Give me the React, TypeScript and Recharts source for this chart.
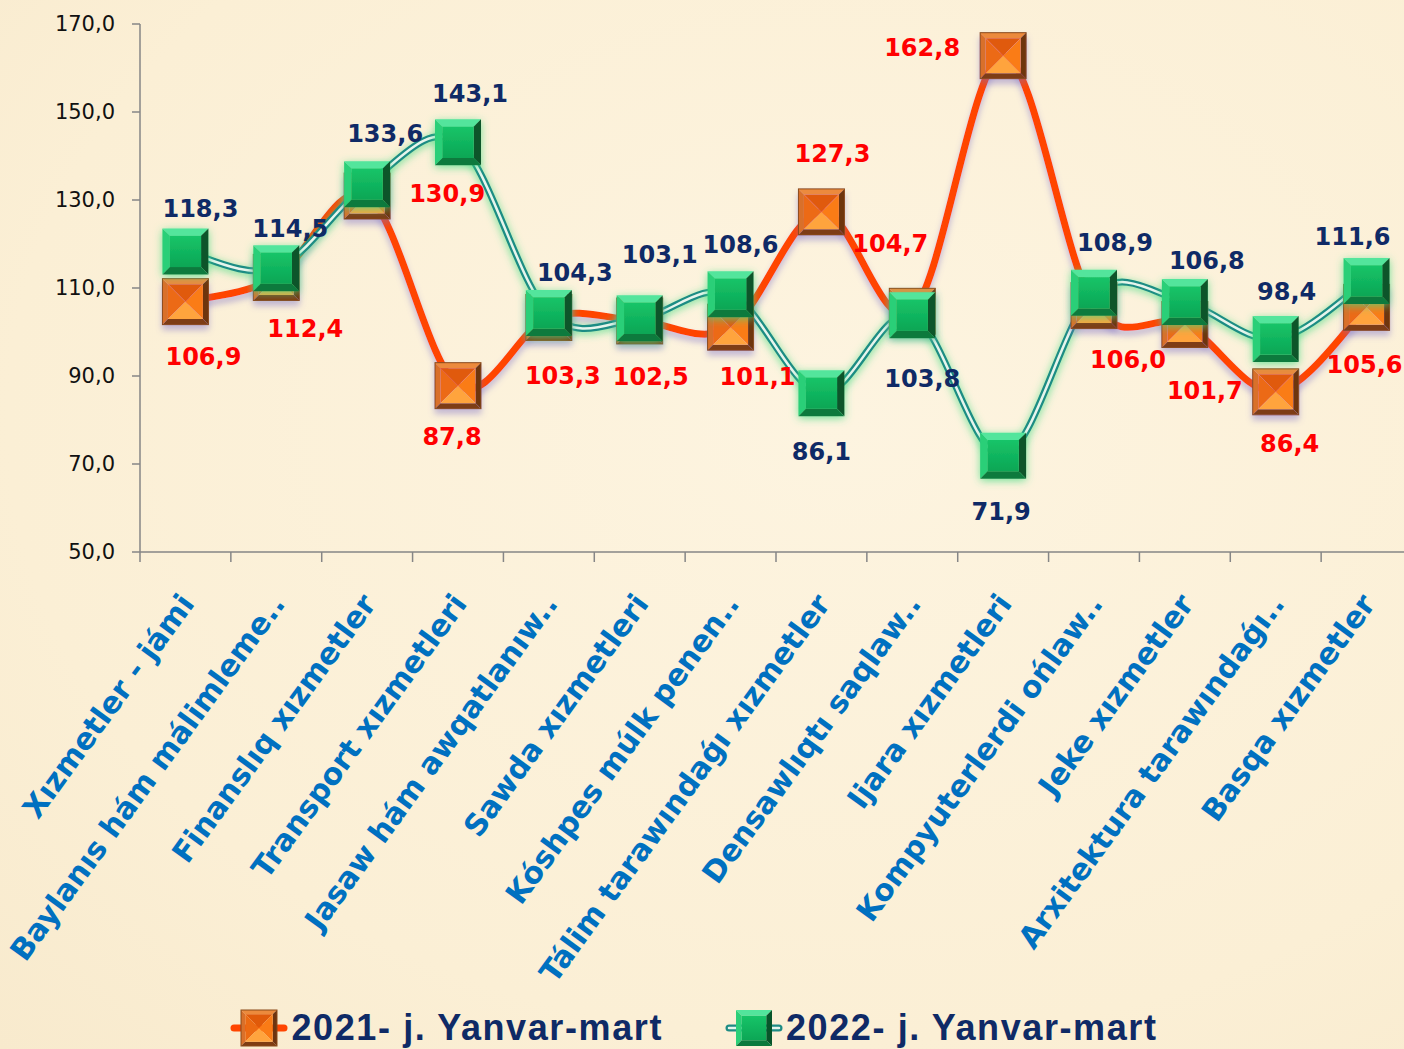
import React from "react";
import { LineChart, Line, XAxis, YAxis, Legend, LabelList } from "recharts";

const categories = [
  "Xızmetler - jámi",
  "Baylanıs hám málimleme..",
  "Finanslıq xızmetler",
  "Transport xızmetleri",
  "Jasaw hám awqatlanıw..",
  "Sawda xızmetleri",
  "Kóshpes múlk penen..",
  "Tálim tarawındaǵı xızmetler",
  "Densawlıqtı saqlaw..",
  "Ijara xızmetleri",
  "Kompyuterlerdi ońlaw..",
  "Jeke xızmetler",
  "Arxitektura tarawındaǵı..",
  "Basqa xızmetler",
];

const values2021 = [106.9, 112.4, 130.9, 87.8, 103.3, 102.5, 101.1, 127.3, 104.7, 162.8, 106.0, 101.7, 86.4, 105.6];
const values2022 = [118.3, 114.5, 133.6, 143.1, 104.3, 103.1, 108.6, 86.1, 103.8, 71.9, 108.9, 106.8, 98.4, 111.6];
const yTicks = [50, 70, 90, 110, 130, 150, 170];
const seriesNames = ["2021- j. Yanvar-mart", "2022- j. Yanvar-mart"];

// where each value label sits relative to its marker (dx, dy)
const labelOffsets2021 = [
  [18, 55], [29, 51], [80, -3], [-6, 51], [14, 58], [11, 55], [27, 49],
  [11, -59], [-22, -68], [-81, -8], [34, 54], [20, 66], [14, 52], [-2, 57],
];
const labelOffsets2022 = [
  [15, -43], [14, -40], [18, -51], [12, -49], [26, -41], [20, -64], [10, -50],
  [0, 58], [10, 63], [-2, 56], [21, -50], [22, -42], [11, -48], [-14, -45],
];

const CHART_W = 1420;
const CHART_H = 1049;
const PLOT_LEFT = 140;
const PLOT_RIGHT = 1412;
const BAND = (PLOT_RIGHT - PLOT_LEFT) / categories.length;

const data = categories.map((name, i) => ({
  name,
  y2021: values2021[i],
  y2022: values2022[i],
}));

const fmt = (v: number) => v.toFixed(1).replace(".", ",");

// Excel-like smoothed line (catmull-rom as cubic beziers)
const smoothCurve = (context: any) => {
  let pts: number[][] = [];
  return {
    areaStart() {},
    areaEnd() {},
    lineStart() {
      pts = [];
    },
    point(x: number, y: number) {
      pts.push([+x, +y]);
    },
    lineEnd() {
      const n = pts.length;
      if (!n) return;
      context.moveTo(pts[0][0], pts[0][1]);
      for (let i = 0; i < n - 1; i++) {
        const p0 = pts[Math.max(i - 1, 0)];
        const p1 = pts[i];
        const p2 = pts[i + 1];
        const p3 = pts[Math.min(i + 2, n - 1)];
        context.bezierCurveTo(
          p1[0] + (p2[0] - p0[0]) / 6,
          p1[1] + (p2[1] - p0[1]) / 6,
          p2[0] - (p3[0] - p1[0]) / 6,
          p2[1] - (p3[1] - p1[1]) / 6,
          p2[0],
          p2[1]
        );
      }
    },
  };
};

function OrangeBox({ cx, cy, size = 46 }: any) {
  const h = size / 2;
  const b = size * 0.12;
  const x0 = cx - h, y0 = cy - h, x1 = cx + h, y1 = cy + h;
  const a0 = x0 + b, b0 = y0 + b, a1 = x1 - b, b1 = y1 - b;
  return (
    <g>
      <polygon points={`${x0},${y0} ${x1},${y0} ${a1},${b0} ${a0},${b0}`} fill="#ec8a3c" />
      <polygon points={`${x0},${y0} ${a0},${b0} ${a0},${b1} ${x0},${y1}`} fill="#d9702a" />
      <polygon points={`${x1},${y0} ${x1},${y1} ${a1},${b1} ${a1},${b0}`} fill="#6e3410" />
      <polygon points={`${x0},${y1} ${a0},${b1} ${a1},${b1} ${x1},${y1}`} fill="#7e3d12" />
      <polygon points={`${a0},${b0} ${a1},${b0} ${cx},${cy}`} fill="#e05a0a" />
      <polygon points={`${a0},${b0} ${cx},${cy} ${a0},${b1}`} fill="#ec6a12" />
      <polygon points={`${a1},${b0} ${a1},${b1} ${cx},${cy}`} fill="#fa7b16" />
      <polygon points={`${a0},${b1} ${a1},${b1} ${cx},${cy}`} fill="#ffa43e" />
      <rect x={x0} y={y0} width={size} height={size} fill="none" stroke="#8a4a18" strokeWidth={1} />
    </g>
  );
}

function GreenBox({ cx, cy, size = 46 }: any) {
  const h = size / 2;
  const b = size * 0.16;
  const x0 = cx - h, y0 = cy - h, x1 = cx + h, y1 = cy + h;
  const a0 = x0 + b, b0 = y0 + b, a1 = x1 - b, b1 = y1 - b;
  return (
    <g>
      <polygon points={`${x0},${y0} ${x1},${y0} ${a1},${b0} ${a0},${b0}`} fill="#52e59c" />
      <polygon points={`${x0},${y0} ${a0},${b0} ${a0},${b1} ${x0},${y1}`} fill="#2bcf78" />
      <polygon points={`${x1},${y0} ${x1},${y1} ${a1},${b1} ${a1},${b0}`} fill="#07552a" />
      <polygon points={`${x0},${y1} ${a0},${b1} ${a1},${b1} ${x1},${y1}`} fill="#0b7a3c" />
      <rect x={a0} y={b0} width={a1 - a0} height={b1 - b0} fill="url(#greenFace)" />
    </g>
  );
}

function makeLabel(offsets: number[][], color: string) {
  return (props: any) => {
    const { x, y, value, index } = props;
    const [dx, dy] = offsets[index] || [0, 0];
    return (
      <text
        x={x + dx}
        y={y + dy}
        dy="0.36em"
        textAnchor="middle"
        fontFamily="DejaVu Sans, Verdana, sans-serif"
        fontWeight={700}
        fontSize={24}
        fill={color}
      >
        {fmt(value)}
      </text>
    );
  };
}

function CategoryTick(props: any) {
  const { x, y, payload } = props;
  const lx = x + 10;
  const ly = y + 52;
  return (
    <g>
      <line x1={x - BAND / 2} y1={y} x2={x - BAND / 2} y2={y + 10} stroke="#868686" strokeWidth={1.5} />
      <text
        x={lx}
        y={ly}
        textAnchor="end"
        transform={`rotate(-54 ${lx} ${ly})`}
        fontFamily="DejaVu Sans, Verdana, sans-serif"
        fontWeight={700}
        fontSize={30}
        fill="#0070C0"
      >
        {payload.value}
      </text>
    </g>
  );
}

function LegendIcon({ kind }: any) {
  return (
    <svg width={58} height={40} style={{ display: "block" }}>
      {kind === 0 ? (
        <g>
          <line x1={4} y1={20} x2={54} y2={20} stroke="#FF4500" strokeWidth={7} strokeLinecap="round" />
          <OrangeBox cx={29} cy={20} size={36} />
        </g>
      ) : (
        <g>
          <line x1={4} y1={20} x2={54} y2={20} stroke="#1E8C84" strokeWidth={7} strokeLinecap="round" />
          <line x1={4} y1={20} x2={54} y2={20} stroke="#E6F5EC" strokeWidth={2.5} strokeLinecap="round" />
          <GreenBox cx={29} cy={20} size={36} />
        </g>
      )}
    </svg>
  );
}

function LegendContent() {
  return (
    <div
      style={{
        height: 60,
        boxSizing: "border-box",
        paddingTop: 18,
        paddingRight: 24,
        display: "flex",
        justifyContent: "center",
        alignItems: "center",
        gap: 62,
      }}
    >
      {seriesNames.map((name, i) => (
        <div key={name} style={{ display: "flex", alignItems: "center", gap: 3 }}>
          <LegendIcon kind={i} />
          <span
            style={{
              fontFamily: "'Liberation Sans', Arial, sans-serif",
              fontWeight: 700,
              fontSize: 36,
              letterSpacing: 1.6,
              color: "#0F2A66",
              lineHeight: "40px",
            }}
          >
            {name}
          </span>
        </div>
      ))}
    </div>
  );
}

export default function App() {
  return (
    <div
      style={{
        position: "absolute",
        left: 0,
        top: 0,
        width: 1404,
        height: CHART_H,
        overflow: "hidden",
        background: "radial-gradient(ellipse at 60% 40%, #fdf4e0 0%, #fbefd5 70%, #f8eacd 100%)",
      }}
    >
      <style>{`
        .l2021 .recharts-line-curve { filter: url(#purpleShadow); }
        .l2022base .recharts-line-curve { filter: url(#greenGlow); }
      `}</style>
      <svg width={0} height={0} style={{ position: "absolute" }}>
        <defs>
          <linearGradient id="greenFace" x1="0" y1="0" x2="0" y2="1">
            <stop offset="0%" stopColor="#16c468" />
            <stop offset="100%" stopColor="#0ca655" />
          </linearGradient>
          <filter id="purpleShadow" filterUnits="userSpaceOnUse" x={0} y={0} width={CHART_W} height={CHART_H}>
            <feDropShadow dx={0} dy={5} stdDeviation={3} floodColor="#7c70c8" floodOpacity={0.45} />
          </filter>
          <filter id="greenGlow" filterUnits="userSpaceOnUse" x={0} y={0} width={CHART_W} height={CHART_H}>
            <feDropShadow dx={0} dy={2} stdDeviation={4} floodColor="#3fdc80" floodOpacity={0.75} />
          </filter>
        </defs>
      </svg>
      <LineChart
        width={CHART_W}
        height={CHART_H}
        data={data}
        margin={{ top: 24, right: CHART_W - PLOT_RIGHT, left: 0, bottom: 0 }}
      >
        <XAxis
          dataKey="name"
          interval={0}
          height={437}
          padding={{ left: BAND / 2, right: BAND / 2 }}
          axisLine={{ stroke: "#868686", strokeWidth: 1.5 }}
          tickLine={false}
          tickSize={0}
          tickMargin={0}
          tick={<CategoryTick />}
        />
        <YAxis
          width={PLOT_LEFT}
          domain={[50, 170]}
          ticks={yTicks}
          interval={0}
          tickFormatter={fmt}
          axisLine={{ stroke: "#868686", strokeWidth: 1.5 }}
          tickLine={{ stroke: "#868686", strokeWidth: 1.5 }}
          tickSize={8}
          tickMargin={17}
          tick={{ fill: "#111", fontSize: 21, fontFamily: "DejaVu Sans, Verdana, sans-serif" }}
        />
        <Legend verticalAlign="bottom" content={<LegendContent />} />
        <Line
          className="l2021"
          dataKey="y2021"
          name={seriesNames[0]}
          type={smoothCurve as any}
          stroke="#FF4500"
          strokeWidth={7}
          isAnimationActive={false}
          dot={(p: any) => (
            <g key={`o-${p.index}`} filter="url(#purpleShadow)">
              <OrangeBox cx={p.cx} cy={p.cy} />
            </g>
          )}
          activeDot={false}
        >
          <LabelList dataKey="y2021" content={makeLabel(labelOffsets2021, "#FF0000")} />
        </Line>
        <Line
          className="l2022base"
          dataKey="y2022"
          name={seriesNames[1]}
          type={smoothCurve as any}
          stroke="#1E8C84"
          strokeWidth={7}
          isAnimationActive={false}
          dot={false}
          activeDot={false}
          legendType="none"
        />
        <Line
          dataKey="y2022"
          name={seriesNames[1]}
          type={smoothCurve as any}
          stroke="#E6F5EC"
          strokeWidth={2.5}
          isAnimationActive={false}
          dot={(p: any) => (
            <g key={`g-${p.index}`} filter="url(#greenGlow)">
              <GreenBox cx={p.cx} cy={p.cy} />
            </g>
          )}
          activeDot={false}
        >
          <LabelList dataKey="y2022" content={makeLabel(labelOffsets2022, "#0F2A66")} />
        </Line>
      </LineChart>
    </div>
  );
}
